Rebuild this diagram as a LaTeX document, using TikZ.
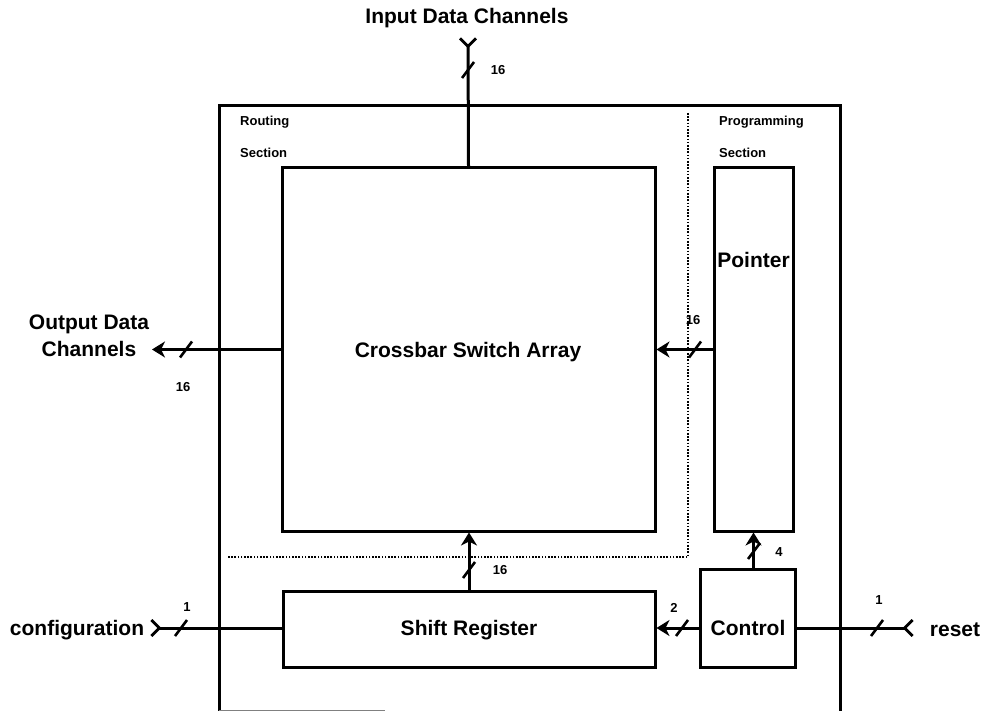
\documentclass[tikz,border=0pt]{standalone}
\usepackage{fontspec}
\setmainfont{Liberation Sans}
\usetikzlibrary{arrows.meta}
\begin{document}
\begin{tikzpicture}[x=1pt,y=-1pt,
  blk/.style={draw,line width=3pt,minimum width=#1,inner sep=0pt},
  wire/.style={line width=3pt},
  outtip/.style={-{Stealth[length=13pt 0,width=16pt 0,inset=4pt]}},
  intip/.style={{Straight Barb[reversed,length=8pt 0,width=16pt 0,line width=2.8pt]}-},
  big/.style={font=\fontsize{21}{27}\selectfont\bfseries},
  small/.style={font=\fontsize{13}{15}\selectfont\bfseries,inner sep=0pt},
  sect/.style={small,anchor=west},
  dots/.style={line width=2pt,dash pattern=on 1.6pt off 1.6pt},
  busmark/.pic={\draw[line width=2.6pt] (-6,8) -- (6,-8);}
]
\useasboundingbox (0,0) rectangle (982,711);
% outer frame (cut at bottom)
\draw[line width=3pt] (219,711) -- (219,106) -- (840,106) -- (840,711);
\draw[line width=1pt,gray] (219,710) -- (385,710);
% dotted section divider
\draw[dots] (688,113) -- (688,557) -- (228,557);
% section labels
\node[sect] (rt1) at (240,122) {Routing};
\node[sect] (rt2) at (240,153) {Section};
\node[sect] (pg1) at (719,122) {Programming};
\node[sect] (pg2) at (719,153) {Section};
% blocks
\node[blk=373pt,minimum height=363pt] (cb) at (468.5,349.5) {};
\node[big] (cbt) at (468,352) {Crossbar Switch Array};
\node[blk=79pt,minimum height=363pt] (ptr) at (753.5,349.5) {};
\node[big,inner sep=0pt] (ptrt) at (753.5,260) {Pointer};
\node[blk=372pt,minimum height=76pt] (sr) at (469,629) {};
\node[big] (srt) at (469,630) {Shift Register};
\node[blk=95pt,minimum height=98pt] (ctl) at (747.5,618) {};
\node[big] (ctlt) at (748,628) {Control};
% external labels
\node[big] (inl) at (467,18) {Input Data Channels};
\node[big,align=center] (outl) at (89,336) {Output Data\\Channels};
\node[big] (cfgl) at (77,630) {configuration};
\node[big] (rstl) at (955,630) {reset};
% end coordinates
\coordinate (inc) at (468,37);
\coordinate (outc) at (152,349.5);
\coordinate (cfgc) at (150,628);
\coordinate (rstc) at (914,628);
% connectors
\draw[wire,intip] (inc) -- (cb.north);
\draw[wire,outtip] (cb.west) -- (outc);
\draw[wire,outtip] (ptr.west) -- (cb.east);
\draw[wire,outtip] (sr.north) -- (sr.north |- cb.south);
\draw[wire,outtip] (ptr.south |- ctl.north) -- (ptr.south);
\draw[wire,outtip] (ctl.west |- 0,628) -- (sr.east |- 0,628);
\draw[wire,intip] (cfgc) -- (sr.west |- cfgc);
\draw[wire,intip] (rstc) -- (ctl.east |- rstc);
% bus width marks
\pic at (468,70) {busmark};
\pic at (186,349.5) {busmark};
\pic at (695,349.5) {busmark};
\pic at (469,570) {busmark};
\pic at (754,551) {busmark};
\pic at (682,628) {busmark};
\pic at (181,628) {busmark};
\pic at (877,628) {busmark};
% bus width labels
\node[small] (n1) at (498,70) {16};
\node[small] (n2) at (183,387) {16};
\node[small] (n3) at (693,320) {16};
\node[small] (n4) at (500,570) {16};
\node[small] (n5) at (779,552) {4};
\node[small] (n6) at (674,608) {2};
\node[small] (n7) at (187,607) {1};
\node[small] (n8) at (879,600) {1};
\end{tikzpicture}
\end{document}
